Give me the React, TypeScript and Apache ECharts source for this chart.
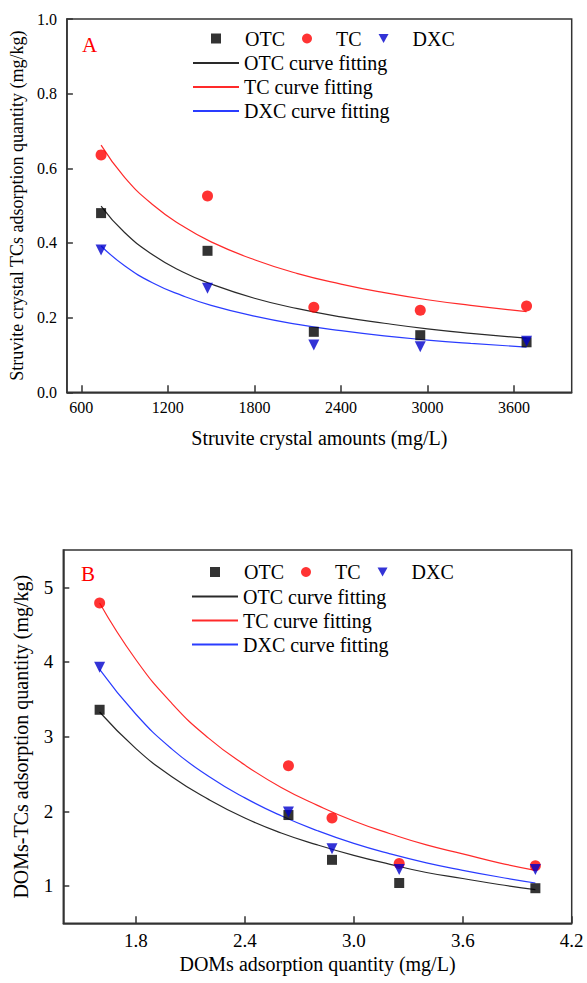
import React, { useEffect, useRef } from "react";
import * as echarts from "echarts";

const FONT = "'Liberation Serif', 'Times New Roman', 'DejaVu Serif', serif";

// ---- Panel A: Struvite crystal amounts ----
const amounts = [737, 1475, 2212, 2950, 3687];
const otcA = [0.48, 0.379, 0.162, 0.153, 0.134];
const tcA = [0.636, 0.526, 0.228, 0.22, 0.231];
const dxcA = [0.381, 0.279, 0.127, 0.122, 0.137];

const fitAmounts = [737, 900, 1100, 1300, 1500, 1800, 2100, 2400, 2700, 3000, 3300, 3687];
const otcFitA = [0.499, 0.428, 0.367, 0.323, 0.29, 0.252, 0.224, 0.202, 0.185, 0.17, 0.158, 0.145];
const tcFitA = [0.662, 0.576, 0.501, 0.446, 0.403, 0.355, 0.318, 0.29, 0.267, 0.248, 0.233, 0.216];
const dxcFitA = [0.392, 0.339, 0.292, 0.259, 0.233, 0.204, 0.182, 0.165, 0.151, 0.14, 0.131, 0.121];

const xTicksA = [600, 1200, 1800, 2400, 3000, 3600];

// ---- Panel B: DOMs adsorption quantity ----
const doms = [1.6, 2.64, 2.88, 3.25, 4.0];
const otcB = [3.36, 1.95, 1.35, 1.04, 0.97];
const tcB = [4.79, 2.61, 1.91, 1.3, 1.27];
const dxcB = [3.93, 1.99, 1.5, 1.22, 1.22];

const fitDoms = [1.6, 1.8, 2.0, 2.2, 2.4, 2.6, 2.8, 3.0, 3.2, 3.4, 3.6, 3.8, 4.0];
const otcFitB = [3.33, 2.84, 2.46, 2.16, 1.91, 1.71, 1.55, 1.41, 1.29, 1.18, 1.1, 1.02, 0.95];
const tcFitB = [4.79, 4.03, 3.44, 2.98, 2.62, 2.32, 2.08, 1.87, 1.7, 1.55, 1.43, 1.31, 1.21];
const dxcFitB = [3.9, 3.3, 2.83, 2.47, 2.18, 1.94, 1.74, 1.57, 1.43, 1.31, 1.21, 1.12, 1.04];

const xTicksB = [1.8, 2.4, 3.0, 3.6, 4.2];
const yTicksB = [1, 2, 3, 4, 5];

const pair = (xs: number[], ys: number[]) => xs.map((x, i) => [x, ys[i]]);

const C_OTC = "#000000";
const C_TC = "#ff0000";
const C_DXC = "#0000cc";
const L_OTC = "#2a2a2a";
const L_TC = "#ff2a2a";
const L_DXC = "#2a3cff";
const TRI = "path://M0,0L10,0L5,9Z";

export default function App() {
  const ref = useRef<HTMLDivElement>(null);
  useEffect(() => {
    const chart = echarts.init(ref.current!, null, { renderer: "svg" });
    const axisLine = { show: true, onZero: false, lineStyle: { color: "#333", width: 1.5 } };
    const tickStyle = { color: "#333", width: 1.5 };
    const scatter = (name: string, xi: number, data: number[][], color: string, symbol: string, size: number, rotate = 0) => ({
      type: "scatter",
      name,
      xAxisIndex: xi,
      yAxisIndex: xi,
      data,
      symbol,
      symbolSize: size,
      symbolRotate: rotate,
      itemStyle: { color },
      z: 4,
    });
    const line = (name: string, xi: number, data: number[][], color: string) => ({
      type: "line",
      name,
      xAxisIndex: xi,
      yAxisIndex: xi,
      data,
      smooth: true,
      symbol: "none",
      lineStyle: { color, width: 1.2 },
      itemStyle: { color },
      z: 2,
    });
    const scatterLegend = (left: number, top: number) => ({
      left,
      top,
      padding: 0,
      orient: "horizontal",
      itemWidth: 10,
      itemHeight: 10,
      itemGap: 17,
      textStyle: { fontFamily: FONT, fontSize: 20, color: "#000", padding: [0, 0, 0, 19] },
      data: [
        { name: "OTC", icon: "rect" },
        { name: "TC", icon: "circle" },
        { name: "DXC", icon: TRI },
      ],
    });
    const lineLegend = (left: number, top: number) => ({
      left,
      top,
      padding: 0,
      orient: "vertical",
      itemWidth: 46,
      itemHeight: 2,
      itemGap: 4,
      icon: "rect",
      textStyle: { fontFamily: FONT, fontSize: 20, color: "#000", lineHeight: 20 },
      data: ["OTC curve fitting", "TC curve fitting", "DXC curve fitting"],
    });

    const option = {
      animation: false,
      backgroundColor: "#fff",
      textStyle: { fontFamily: FONT },
      grid: [
        { left: 63.3, top: 19, width: 508.4, height: 373.3, show: true, borderColor: "#333", borderWidth: 1.5, backgroundColor: "transparent" },
        { left: 63.3, top: 550, width: 508.4, height: 373.3, show: true, borderColor: "#333", borderWidth: 1.5, backgroundColor: "transparent" },
      ],
      xAxis: [
        {
          type: "value",
          gridIndex: 0,
          min: 500,
          max: 4000,
          name: "Struvite crystal amounts (mg/L)",
          nameLocation: "middle",
          nameGap: 36,
          nameTextStyle: { fontFamily: FONT, fontSize: 20, color: "#000" },
          axisLine,
          axisTick: { show: true, inside: true, length: 7, customValues: xTicksA, lineStyle: tickStyle },
          axisLabel: {
            customValues: xTicksA,
            fontFamily: FONT,
            fontSize: 16,
            color: "#000",
            margin: 7,
            formatter: (v: number) => String(Math.round(v)),
          },
          splitLine: { show: false },
        },
        {
          type: "value",
          gridIndex: 1,
          min: 1.4,
          max: 4.2,
          name: "DOMs adsorption quantity (mg/L)",
          nameLocation: "middle",
          nameGap: 31,
          nameTextStyle: { fontFamily: FONT, fontSize: 20, color: "#000" },
          axisLine,
          axisTick: { show: true, inside: true, length: 7, customValues: xTicksB, lineStyle: tickStyle },
          axisLabel: {
            customValues: xTicksB,
            fontFamily: FONT,
            fontSize: 19,
            color: "#000",
            margin: 8,
            formatter: (v: number) => v.toFixed(1),
          },
          splitLine: { show: false },
        },
      ],
      yAxis: [
        {
          type: "value",
          gridIndex: 0,
          min: 0,
          max: 1,
          interval: 0.2,
          name: "Struvite crystal TCs adsorption quantity (mg/kg)",
          nameLocation: "middle",
          nameGap: 34,
          nameTextStyle: { fontFamily: FONT, fontSize: 18, color: "#000" },
          axisLine,
          axisTick: { show: true, inside: true, length: 6, lineStyle: tickStyle },
          axisLabel: { fontFamily: FONT, fontSize: 16, color: "#000", margin: 10, formatter: (v: number) => v.toFixed(1) },
          splitLine: { show: false },
        },
        {
          type: "value",
          gridIndex: 1,
          min: 0.5,
          max: 5.5,
          name: "DOMs-TCs adsorption quantity (mg/kg)",
          nameLocation: "middle",
          nameGap: 32,
          nameTextStyle: { fontFamily: FONT, fontSize: 20, color: "#000" },
          axisLine,
          axisTick: { show: true, inside: true, length: 6, customValues: yTicksB, lineStyle: tickStyle },
          axisLabel: { customValues: yTicksB, fontFamily: FONT, fontSize: 19, color: "#000", margin: 10 },
          splitLine: { show: false },
        },
      ],
      legend: [scatterLegend(211, 28.5), lineLegend(193, 53), scatterLegend(210, 562), lineLegend(192, 586.5)],
      graphic: [
        { type: "text", left: 82, top: 34, style: { text: "A", fontFamily: FONT, fontSize: 21, fill: "#ff0000" } },
        { type: "text", left: 81, top: 563, style: { text: "B", fontFamily: FONT, fontSize: 21, fill: "#ff0000" } },
      ],
      series: [
        scatter("OTC", 0, pair(amounts, otcA), C_OTC, "rect", 10),
        scatter("TC", 0, pair(amounts, tcA), C_TC, "circle", 11),
        scatter("DXC", 0, pair(amounts, dxcA), C_DXC, "triangle", 11, 180),
        line("OTC curve fitting", 0, pair(fitAmounts, otcFitA), L_OTC),
        line("TC curve fitting", 0, pair(fitAmounts, tcFitA), L_TC),
        line("DXC curve fitting", 0, pair(fitAmounts, dxcFitA), L_DXC),
        scatter("OTC", 1, pair(doms, otcB), C_OTC, "rect", 10),
        scatter("TC", 1, pair(doms, tcB), C_TC, "circle", 11),
        scatter("DXC", 1, pair(doms, dxcB), C_DXC, "triangle", 11, 180),
        line("OTC curve fitting", 1, pair(fitDoms, otcFitB), L_OTC),
        line("TC curve fitting", 1, pair(fitDoms, tcFitB), L_TC),
        line("DXC curve fitting", 1, pair(fitDoms, dxcFitB), L_DXC),
      ],
    };
    chart.setOption(option as any);
    return () => chart.dispose();
  }, []);
  return (
    <div
      ref={ref}
      style={{ position: "fixed", left: 0, top: 0, width: 587, height: 983, background: "#fff" }}
    />
  );
}
